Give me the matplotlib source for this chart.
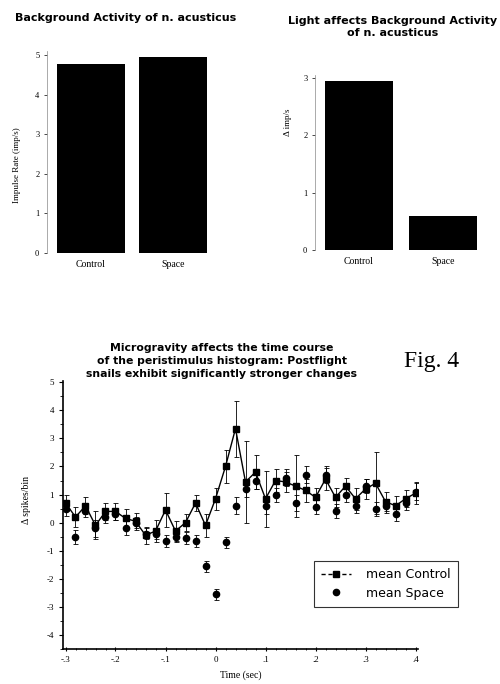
import numpy as np
import matplotlib
matplotlib.use("Agg")
import matplotlib.pyplot as plt
from matplotlib.lines import Line2D

plt.rcParams["axes.unicode_minus"] = False

# top panels
conditions = ["Control", "Space"]
impulse_rate = [4.78, 4.95]
delta_imp = [2.95, 0.60]

# peristimulus histogram (bins of 20 ms)
time_s = [-0.30, -0.28, -0.26, -0.24, -0.22, -0.20, -0.18, -0.16, -0.14, -0.12,
          -0.10, -0.08, -0.06, -0.04, -0.02, 0.00, 0.02, 0.04, 0.06, 0.08,
          0.10, 0.12, 0.14, 0.16, 0.18, 0.20, 0.22, 0.24, 0.26, 0.28,
          0.30, 0.32, 0.34, 0.36, 0.38, 0.40]
mean_control = [0.70, 0.20, 0.60, -0.10, 0.40, 0.40, 0.15, 0.05, -0.45, -0.30,
                0.45, -0.30, 0.00, 0.70, -0.10, 0.85, 2.00, 3.35, 1.45, 1.80,
                0.85, 1.50, 1.45, 1.30, 1.15, 0.90, 1.55, 0.90, 1.30, 0.85,
                1.20, 1.40, 0.75, 0.60, 0.85, 1.05]
control_err = [0.30, 0.35, 0.30, 0.50, 0.30, 0.30, 0.35, 0.30, 0.30, 0.40,
               0.60, 0.35, 0.30, 0.30, 0.40, 0.40, 0.60, 1.00, 1.45, 0.60,
               1.00, 0.40, 0.35, 1.10, 0.40, 0.35, 0.40, 0.35, 0.30, 0.40,
               0.35, 1.10, 0.35, 0.35, 0.30, 0.40]
mean_space = [0.50, -0.50, 0.40, -0.20, 0.20, 0.30, -0.20, 0.00, -0.40, -0.40,
              -0.65, -0.50, -0.55, -0.65, -1.55, -2.55, -0.70, 0.60, 1.20, 1.50,
              0.60, 1.00, 1.60, 0.70, 1.70, 0.55, 1.70, 0.40, 1.00, 0.60,
              1.30, 0.50, 0.60, 0.30, 0.70, 1.10]
space_err = [0.25, 0.25, 0.20, 0.30, 0.20, 0.20, 0.25, 0.20, 0.20, 0.20,
             0.20, 0.20, 0.20, 0.20, 0.20, 0.20, 0.20, 0.30, 0.30, 0.30,
             0.30, 0.25, 0.30, 0.30, 0.30, 0.25, 0.30, 0.25, 0.25, 0.25,
             0.25, 0.25, 0.25, 0.25, 0.25, 0.30]

x_ticks = [-0.3, -0.2, -0.1, 0.0, 0.1, 0.2, 0.3, 0.4]
x_tick_labels = ["-.3", "-.2", "-.1", "0", ".1", ".2", ".3", ".4"]

serif = "Liberation Serif"
sans = "DejaVu Sans"

fig = plt.figure(figsize=(5.0, 6.84), dpi=100)


def style_bar_axes(ax, ylabel, label_xy):
    for s in ["top", "right", "bottom"]:
        ax.spines[s].set_visible(False)
    ax.spines["left"].set_linewidth(0.5)
    ax.spines["left"].set_color("#888888")
    ax.tick_params(axis="y", labelsize=6, length=2, width=0.5)
    ax.tick_params(axis="x", length=0, pad=5)
    for lab in ax.get_yticklabels():
        lab.set_family(serif)
    ax.set_xticks([0, 1])
    ax.set_xticklabels(conditions, family=serif, fontsize=7)
    ax.set_ylabel(ylabel, family=serif, fontsize=6.5)
    ax.yaxis.set_label_coords(*label_xy)


# --- top left
ax1 = fig.add_axes([0.094, 0.630, 0.340, 0.2895 * 5.1 / 5])
ax1.bar([0, 1], impulse_rate, width=0.82, color="black")
ax1.set_xlim(-0.53, 1.53)
ax1.set_ylim(0, 5.1)
ax1.set_yticks([0, 1, 2, 3, 4, 5])
style_bar_axes(ax1, "Impulse Rate (imp/s)", (-0.15, 0.436))

# --- top right
ax2 = fig.add_axes([0.630, 0.6345, 0.344, 0.2515 * 3.05 / 3])
ax2.bar([0, 1], delta_imp, width=0.81, color="black")
ax2.set_xlim(-0.525, 1.525)
ax2.set_ylim(0, 3.05)
ax2.set_yticks([0, 1, 2, 3])
style_bar_axes(ax2, "\u0394 imp/s", (-0.135, 0.73))

fig.text(126 / 500, 1 - 18 / 684, "Background Activity of n. acusticus",
         ha="center", va="center", fontsize=8, fontweight="bold", family=sans)
fig.text(393 / 500, 1 - 27 / 684, "Light affects Background Activity\nof n. acusticus",
         ha="center", va="center", fontsize=8, fontweight="bold", family=sans,
         linespacing=1.35)

# --- bottom: peristimulus histogram
ax3 = fig.add_axes([0.126, 0.0512, 0.710, 0.392])
ax3.errorbar(time_s, mean_space, yerr=space_err, fmt="o", color="black",
             markersize=4.5, elinewidth=0.6, capsize=1.8, capthick=0.6)
ax3.errorbar(time_s, mean_control, yerr=control_err, fmt="-s", color="black",
             markersize=4, linewidth=1.0, elinewidth=0.6, capsize=1.8,
             capthick=0.6)
ax3.set_xlim(-0.305, 0.405)
ax3.set_ylim(-4.5, 5.05)
ax3.set_xticks(x_ticks)
ax3.set_xticklabels(x_tick_labels, family=serif, fontsize=6.5)
ax3.set_xticks(np.arange(-0.3, 0.401, 0.02), minor=True)
ax3.set_yticks([5, 4, 3, 2, 1, 0, -1, -2, -3, -4])
ax3.set_yticks(np.arange(-4.5, 5.01, 0.5), minor=True)
for lab in ax3.get_yticklabels():
    lab.set_family(serif)
ax3.tick_params(axis="both", which="major", labelsize=6.5, length=3, width=0.8)
ax3.tick_params(axis="both", which="minor", length=2, width=0.6)
ax3.tick_params(axis="x", which="both", direction="inout")
for s in ["top", "right"]:
    ax3.spines[s].set_visible(False)
ax3.spines["left"].set_linewidth(1.2)
ax3.spines["bottom"].set_linewidth(1.2)
ax3.set_xlabel("Time (sec)", family=serif, fontsize=7, labelpad=5)
ax3.set_ylabel("\u0394 spikes/bin", family=serif, fontsize=7)
ax3.yaxis.set_label_coords(-0.09, 0.556)

handles = [
    Line2D([], [], color="black", marker="s", markersize=4, linewidth=1.0,
           linestyle=(0, (3, 2))),
    Line2D([], [], color="black", marker="o", markersize=4.5, linestyle="none"),
]
leg = fig.legend(handles, ["mean Control", "mean Space"], loc="center",
                 bbox_to_anchor=(386 / 500, 1 - 584 / 684),
                 frameon=True, fancybox=False, edgecolor="black",
                 borderpad=0.6, handlelength=2.4, handletextpad=1.2,
                 labelspacing=0.45, prop={"family": sans, "size": 9})
leg.get_frame().set_linewidth(0.8)

fig.text(222 / 500, 1 - 361 / 684,
         "Microgravity affects the time course\nof the peristimulus histogram: Postflight\nsnails exhibit significantly stronger changes",
         ha="center", va="center", fontsize=7.8, fontweight="bold", family=sans,
         linespacing=1.35)
fig.text(432 / 500, 1 - 361 / 684, "Fig. 4", ha="center", va="center",
         fontsize=17, family=serif)

fig.savefig("out.png", dpi=100)
